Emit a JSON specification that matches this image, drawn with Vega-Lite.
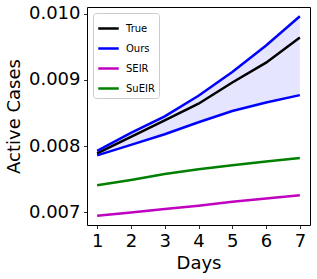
{
  "$schema": "https://vega.github.io/schema/vega-lite/v6.json",
  "autosize": "none",
  "width": 223,
  "height": 218,
  "padding": {"left": 87, "top": 7, "right": 7, "bottom": 54},
  "config": {
    "font": "DejaVu Sans",
    "view": {"stroke": "#000", "strokeWidth": 1},
    "axis": {
      "grid": false, "domain": false, "tickColor": "#000", "tickSize": 3.5, "tickWidth": 0.8,
      "labelFontSize": 18, "labelColor": "#000", "titleFontSize": 18, "titleColor": "#000",
      "titleFontWeight": "normal", "labelPadding": 3.5, "labelOverlap": false, "labelFlush": false
    }
  },
  "datasets": {
    "lines": [
      {"day": 1, "series": "True", "part": "a", "value": 0.00789},
      {"day": 2, "series": "True", "part": "a", "value": 0.00814},
      {"day": 3, "series": "True", "part": "a", "value": 0.00839},
      {"day": 4, "series": "True", "part": "a", "value": 0.00864},
      {"day": 5, "series": "True", "part": "a", "value": 0.00896},
      {"day": 6, "series": "True", "part": "a", "value": 0.00926},
      {"day": 7, "series": "True", "part": "a", "value": 0.00964},
      {"day": 1, "series": "Ours", "part": "hi", "value": 0.00793},
      {"day": 2, "series": "Ours", "part": "hi", "value": 0.0082},
      {"day": 3, "series": "Ours", "part": "hi", "value": 0.00845},
      {"day": 4, "series": "Ours", "part": "hi", "value": 0.00876},
      {"day": 5, "series": "Ours", "part": "hi", "value": 0.00912},
      {"day": 6, "series": "Ours", "part": "hi", "value": 0.00952},
      {"day": 7, "series": "Ours", "part": "hi", "value": 0.00996},
      {"day": 1, "series": "Ours", "part": "lo", "value": 0.00786},
      {"day": 2, "series": "Ours", "part": "lo", "value": 0.00802},
      {"day": 3, "series": "Ours", "part": "lo", "value": 0.00818},
      {"day": 4, "series": "Ours", "part": "lo", "value": 0.00836},
      {"day": 5, "series": "Ours", "part": "lo", "value": 0.00853},
      {"day": 6, "series": "Ours", "part": "lo", "value": 0.00866},
      {"day": 7, "series": "Ours", "part": "lo", "value": 0.00877},
      {"day": 1, "series": "SEIR", "part": "a", "value": 0.00695},
      {"day": 2, "series": "SEIR", "part": "a", "value": 0.007},
      {"day": 3, "series": "SEIR", "part": "a", "value": 0.00705},
      {"day": 4, "series": "SEIR", "part": "a", "value": 0.0071},
      {"day": 5, "series": "SEIR", "part": "a", "value": 0.00716},
      {"day": 6, "series": "SEIR", "part": "a", "value": 0.00721},
      {"day": 7, "series": "SEIR", "part": "a", "value": 0.00726},
      {"day": 1, "series": "SuEIR", "part": "a", "value": 0.00741},
      {"day": 2, "series": "SuEIR", "part": "a", "value": 0.00749},
      {"day": 3, "series": "SuEIR", "part": "a", "value": 0.00758},
      {"day": 4, "series": "SuEIR", "part": "a", "value": 0.00765},
      {"day": 5, "series": "SuEIR", "part": "a", "value": 0.00771},
      {"day": 6, "series": "SuEIR", "part": "a", "value": 0.00777},
      {"day": 7, "series": "SuEIR", "part": "a", "value": 0.00782}
    ],
    "band": [
      {"day": 1, "lo": 0.00786, "hi": 0.00793},
      {"day": 2, "lo": 0.00802, "hi": 0.0082},
      {"day": 3, "lo": 0.00818, "hi": 0.00845},
      {"day": 4, "lo": 0.00836, "hi": 0.00876},
      {"day": 5, "lo": 0.00853, "hi": 0.00912},
      {"day": 6, "lo": 0.00866, "hi": 0.00952},
      {"day": 7, "lo": 0.00877, "hi": 0.00996}
    ]
  },
  "encoding": {
    "x": {"field": "day", "type": "quantitative", "title": "Days",
      "scale": {"domain": [0.7, 7.3], "nice": false, "zero": false},
      "axis": {"values": [1, 2, 3, 4, 5, 6, 7], "tickCount": 7, "format": "d", "titlePadding": 4, "labelOverlap": false, "labelFlush": false}}
  },
  "layer": [
    {
      "data": {"name": "band"},
      "mark": {"type": "area", "color": "#0000ff", "opacity": 0.1},
      "encoding": {
        "y": {"field": "hi", "type": "quantitative", "title": "Active Cases",
          "scale": {"domain": [0.00681, 0.0101], "nice": false, "zero": false},
          "axis": {"values": [0.007, 0.008, 0.009, 0.01], "format": ".3f", "titlePadding": 5, "labelOverlap": false, "labelFlush": false}},
        "y2": {"field": "lo"}
      }
    },
    {
      "data": {"name": "lines"},
      "mark": {"type": "line", "strokeWidth": 2.5, "clip": true},
      "encoding": {
        "y": {"field": "value", "type": "quantitative", "title": "Active Cases",
          "axis": {"values": [0.007, 0.008, 0.009, 0.01], "format": ".3f", "titlePadding": 5, "labelOverlap": false, "labelFlush": false}},
        "color": {"field": "series", "type": "nominal",
          "scale": {"domain": ["True", "Ours", "SEIR", "SuEIR"], "range": ["#000000", "#0000ff", "#bf00bf", "#008000"]},
          "legend": {"title": null, "orient": "top-left", "offset": 6, "symbolType": "stroke", "symbolStrokeWidth": 2.5,
            "symbolSize": 420, "labelFontSize": 10, "labelColor": "#000", "strokeColor": "#cccccc", "fillColor": "#ffffff",
            "cornerRadius": 3, "padding": 4, "rowPadding": 3, "labelOffset": 6}},
        "detail": {"field": "part"}
      }
    }
  ]
}
